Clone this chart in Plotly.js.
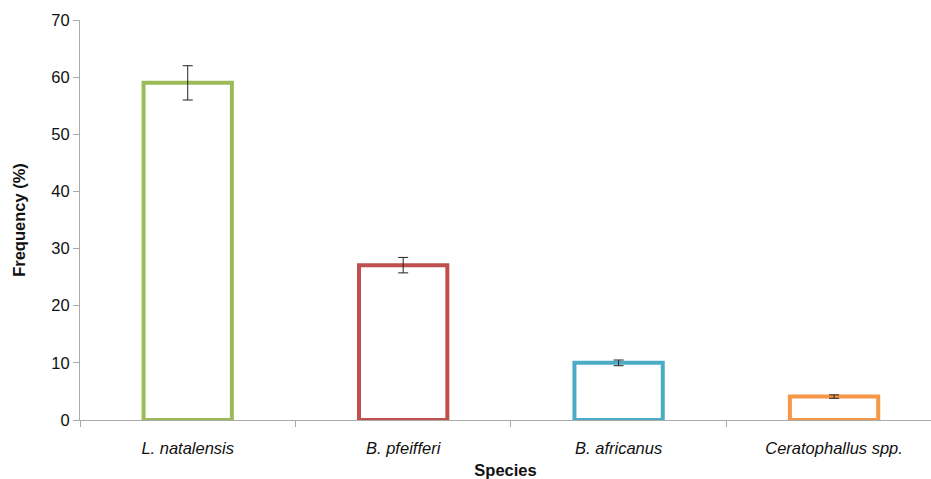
<!DOCTYPE html>
<html><head><meta charset="utf-8">
<script src="https://cdn.plot.ly/plotly-3.0.1.min.js"></script>
<style>html,body{margin:0;padding:0;background:#fff}#chart{width:931px;height:479px}</style>
</head><body><div id="chart"></div>
<script>
var species = ['L. natalensis', 'B. pfeifferi', 'B. africanus', 'Ceratophallus spp.'];
var frequency = [59, 27.1, 10, 4.1];
var errors = [3, 1.35, 0.5, 0.3];
var colors = ['#9BBB59', '#C0504D', '#4BACC6', '#F79646'];
var yTicks = [0, 10, 20, 30, 40, 50, 60, 70];

var trace = {
  type: 'bar',
  x: species,
  y: frequency,
  width: 0.41,
  marker: {color: 'rgba(255,255,255,1)', line: {color: colors, width: 4}},
  error_y: {type: 'data', array: errors, visible: true, color: '#222', thickness: 1, width: 5},
  hoverinfo: 'none'
};

var layout = {
  width: 931, height: 479,
  margin: {l: 80, r: 0, t: 20, b: 59},
  paper_bgcolor: '#fff', plot_bgcolor: '#fff',
  showlegend: false,
  font: {family: 'Liberation Sans, Arial, sans-serif', color: '#111'},
  xaxis: {
    type: 'category',
    range: [-0.5, 3.45],
    showline: true, linecolor: '#aaa', linewidth: 1,
    ticks: 'outside', tickson: 'boundaries', ticklen: 6, tickcolor: '#aaa',
    ticklabelstandoff: 13,
    showgrid: false, zeroline: false,
    tickfont: {size: 16.5, style: 'italic', color: '#111'},
    title: {text: '<b>Species</b>', font: {size: 16.5, color: '#111'}, standoff: 8}
  },
  yaxis: {
    range: [0, 70],
    tickvals: yTicks,
    showline: true, linecolor: '#aaa', linewidth: 1,
    ticks: 'outside', ticklen: 6, tickcolor: '#aaa',
    showgrid: false, zeroline: false,
    tickfont: {size: 16.5, color: '#111'},
    title: {text: '<b>Frequency (%)</b>', font: {size: 16.5, color: '#111'}, standoff: 21}
  }
};

Plotly.newPlot('chart', [trace], layout, {displayModeBar: false, staticPlot: true});
</script></body></html>
